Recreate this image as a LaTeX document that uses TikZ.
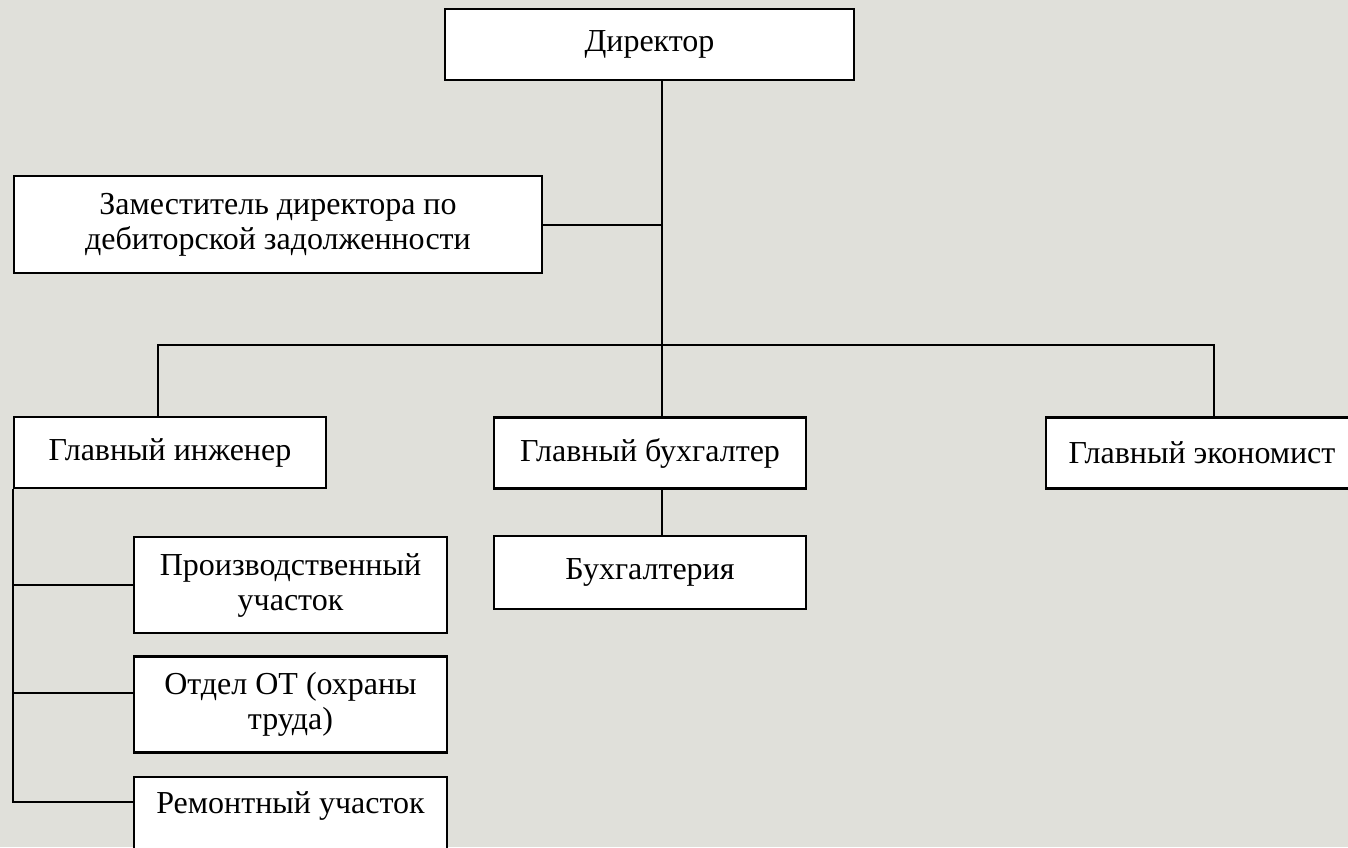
\documentclass[tikz,border=0pt]{standalone}
\usepackage{fontspec}
\setmainfont{Liberation Serif}
\definecolor{fond}{RGB}{224,224,218}
\tikzset{
    boite/.style={draw, line width=1.1pt, fill=white, align=center, inner sep=0pt,
        minimum width=156pt, minimum height=35.5pt,
        font=\fontsize{16}{17.5}\selectfont},
    lien/.style={line width=1pt}
}
\begin{document}
\begin{tikzpicture}[x=0.5pt,y=-0.5pt]
            \fill [fond] (0,0) rectangle (1348,847);
            \useasboundingbox (0,0) rectangle (1348,847);
            \node [boite,minimum width=204.5pt] (dir) at (649.5,44.5) {Директор};
            \node [boite,minimum width=264pt,minimum height=48.5pt] (zam) at (278,224.5) {Заместитель директора по\\дебиторской задолженности};
            \node [boite] (eng) at (170,452.5) {Главный инженер};
            \node [boite] (acc) at (650,453) {Главный бухгалтер};
            \node [boite] (eco) at (1202,453) {Главный экономист};
            \node [boite,minimum width=156.5pt,minimum height=48pt] (prod) at (290.5,585) {Производственный\\участок};
            \node [boite,minimum height=36.5pt] (buh) at (650,572.5) {Бухгалтерия};
            \node [boite,minimum width=156.5pt,minimum height=48pt] (ot) at (290.5,704.5) {Отдел ОТ (охраны\\труда)};
            \node [boite,minimum width=156.5pt,minimum height=48pt] (rem) at (290.5,825) {Ремонтный участок\\\strut};
            \coordinate (spine) at (662,345);
            \draw [lien] ([xshift=6.25pt]dir.south) -- ([xshift=6pt]acc.north);
            \draw [lien] (zam.east) -- (zam.east -| spine);
            \draw [lien] ([xshift=-6pt]eng.north) |- (spine) -| ([xshift=6pt]eco.north);
            \draw [lien] ([xshift=6pt]acc.south) -- ([xshift=6pt]buh.north);
            \draw [lien] (eng.south west) |- (prod.west);
            \draw [lien] (eng.south west) |- ([yshift=5.75pt]ot.west);
            \draw [lien] (eng.south west) |- ([yshift=11.5pt]rem.west);
        \end{tikzpicture}
\end{document}
